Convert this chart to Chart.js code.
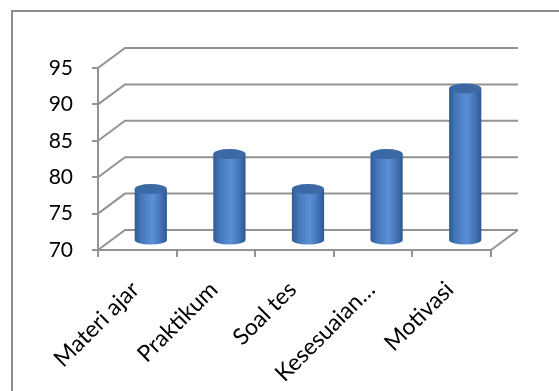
<!DOCTYPE html>
<html>
<head>
<meta charset="utf-8">
<script src="https://cdn.jsdelivr.net/npm/chart.js@4.4.1/dist/chart.umd.min.js"></script>
<style>
    body { margin: 0; background: #fff; }
    #wrap { position: relative; width: 559px; height: 391px; }
</style>
</head>
<body>
<div id="wrap"><canvas id="cylinderChart" width="559" height="391"></canvas></div>
<script>
const categories = ["Materi ajar", "Praktikum", "Soal tes", "Kesesuaian…", "Motivasi"];
const scores = [77, 81.8, 77, 81.8, 90.8];
const yTicks = [70, 75, 80, 85, 90, 95];

const lineGray = '#939393';
// depth of the fake 3d box (back wall is shifted by this much)
const depthX = 27;
const depthY = -20;

const frame = {
    id: 'frame',
    beforeDraw(chart) {
        const ctx = chart.ctx;
        ctx.save();
        ctx.strokeStyle = '#8c8c8c';
        ctx.lineWidth = 2;
        ctx.beginPath();
        ctx.moveTo(12, chart.height);
        ctx.lineTo(12, 11);
        ctx.lineTo(chart.width, 11);
        ctx.stroke();
        ctx.restore();
    }
};

const walls = {
    id: 'walls',
    beforeDatasetsDraw(chart) {
        const ctx = chart.ctx;
        const area = chart.chartArea;
        const y = chart.scales.y;
        ctx.save();
        ctx.strokeStyle = lineGray;
        ctx.lineWidth = 2;
        ctx.beginPath();
        yTicks.forEach(v => {
            const py = y.getPixelForValue(v);
            // side wall diagonal + back wall line
            ctx.moveTo(area.left, py);
            ctx.lineTo(area.left + depthX, py + depthY);
            ctx.lineTo(area.right + depthX, py + depthY);
        });
        // floor right edge
        const py0 = y.getPixelForValue(yTicks[0]);
        ctx.moveTo(area.right, py0);
        ctx.lineTo(area.right + depthX, py0 + depthY);
        ctx.stroke();
        ctx.restore();
    }
};

const cylinders = {
    id: 'cylinders',
    afterDatasetsDraw(chart) {
        const ctx = chart.ctx;
        const meta = chart.getDatasetMeta(0);
        const y = chart.scales.y;
        const floor = y.getPixelForValue(y.min);
        ctx.save();
        meta.data.forEach(bar => {
            const cx = bar.x + depthX / 2;
            const top = bar.y + depthY / 2;
            const base = floor + depthY / 2;
            const rx = bar.width / 2;
            const ry = 4.5;

            const grad = ctx.createLinearGradient(cx - rx, 0, cx + rx, 0);
            grad.addColorStop(0, '#2f5b94');
            grad.addColorStop(0.2, '#4576b9');
            grad.addColorStop(0.55, '#5b90d6');
            grad.addColorStop(0.85, '#3f6eae');
            grad.addColorStop(1, '#2c5890');

            ctx.fillStyle = grad;
            ctx.beginPath();
            ctx.moveTo(cx - rx, top);
            ctx.lineTo(cx - rx, base);
            ctx.ellipse(cx, base, rx, ry, 0, Math.PI, 0, true);
            ctx.lineTo(cx + rx, top);
            ctx.closePath();
            ctx.fill();

            const topGrad = ctx.createLinearGradient(cx - rx, 0, cx + rx, 0);
            topGrad.addColorStop(0, '#3a68a6');
            topGrad.addColorStop(1, '#3e6aa5');
            ctx.fillStyle = topGrad;
            ctx.beginPath();
            ctx.ellipse(cx, top, rx, ry + 0.5, 0, 0, Math.PI * 2);
            ctx.fill();
        });
        ctx.restore();
    }
};

window.onload = function () {
    const ctx = document.getElementById('cylinderChart').getContext('2d');
    new Chart(ctx, {
        type: 'bar',
        data: {
            labels: categories,
            datasets: [{
                data: scores,
                backgroundColor: 'rgba(0,0,0,0)',
                borderWidth: 0,
                barPercentage: 0.41,
                categoryPercentage: 1
            }]
        },
        options: {
            responsive: false,
            animation: false,
            devicePixelRatio: 1,
            layout: {
                padding: { left: 0, top: 68, right: 68, bottom: 0 }
            },
            plugins: {
                legend: { display: false },
                tooltip: { enabled: false }
            },
            scales: {
                x: {
                    afterFit: axis => { axis.height = 141; },
                    border: { display: true, color: lineGray, width: 2 },
                    grid: {
                        offset: true,
                        drawOnChartArea: false,
                        drawTicks: true,
                        tickLength: 7,
                        color: lineGray,
                        lineWidth: 2
                    },
                    ticks: {
                        autoSkip: false,
                        minRotation: 45,
                        maxRotation: 45,
                        padding: 19,
                        labelOffset: -2,
                        color: '#000',
                        font: { family: 'Lato', size: 23 }
                    }
                },
                y: {
                    min: 70,
                    max: 95,
                    afterFit: axis => { axis.width = 98; },
                    afterBuildTicks: axis => {
                        axis.ticks = yTicks.map(v => ({ value: v }));
                    },
                    border: { display: true, color: lineGray, width: 2 },
                    grid: {
                        drawOnChartArea: false,
                        drawTicks: true,
                        tickLength: 6,
                        color: lineGray,
                        lineWidth: 2
                    },
                    ticks: {
                        padding: 19,
                        color: '#000',
                        font: { family: 'Lato', size: 21 }
                    }
                }
            }
        },
        plugins: [frame, walls, cylinders]
    });
};
</script>
</body>
</html>
